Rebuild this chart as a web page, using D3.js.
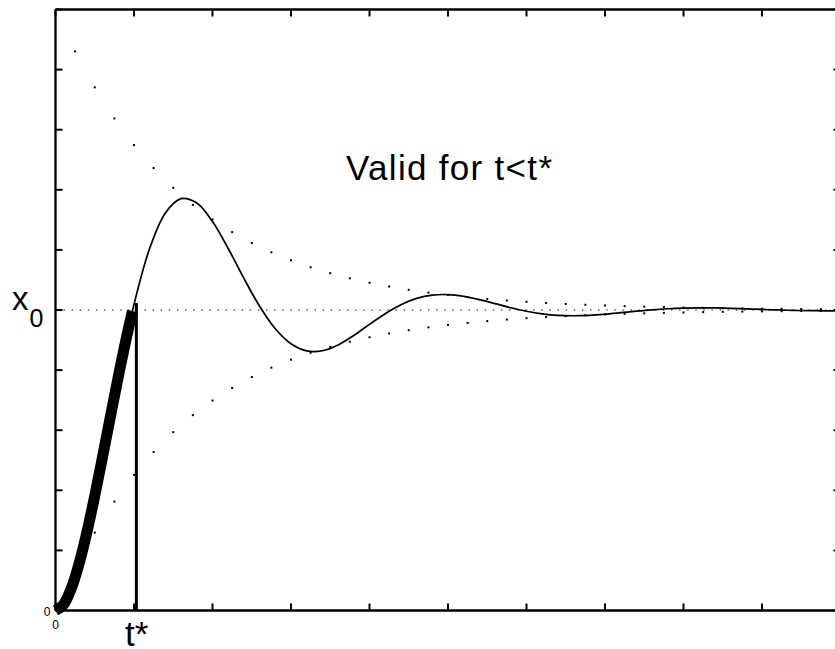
<!DOCTYPE html>
<html><head><meta charset="utf-8">
<script src="https://cdn.jsdelivr.net/npm/d3@7"></script>
<style>html,body{margin:0;padding:0;background:#fff;overflow:hidden}</style>
</head><body><svg id="c" width="835" height="649" style="display:block"></svg>
<script>
// ---- data ----
const respT = [0,0.2,0.4,0.6,0.8,1.0,1.2,1.4,1.6,1.8,2.0,2.2,2.4,2.6,2.8,3.0,3.2,3.4,3.6,3.8,4.0,4.2,4.4,4.6,4.8,5.0,5.2,5.4,5.6,5.8,6.0,6.2,6.4,6.6,6.8,7.0,7.2,7.4,7.6,7.8,8.0,8.2,8.4,8.6,8.8,9.0,9.2,9.4,9.6,9.8,10];
const respX = [0,0.0730,0.2605,0.5120,0.7781,1.0186,1.2053,1.3232,1.3707,1.3560,1.2944,1.2046,1.1054,1.0125,0.9375,0.8875,0.8639,0.8644,0.8838,0.9153,0.9522,0.9878,1.0175,1.0385,1.0495,1.0513,1.0454,1.0345,1.0211,1.0075,0.9959,0.9872,0.9822,0.9808,0.9824,0.9861,0.9910,0.9961,1.0006,1.0041,1.0063,1.0071,1.0068,1.0056,1.0038,1.0019,1.0001,0.9987,0.9978,0.9974,0.9974];
const thickT = [0,0.1,0.2,0.3,0.4,0.5,0.6,0.7,0.8,0.9,0.98];
const thickX = [0,0.0192,0.0730,0.1556,0.2605,0.3815,0.5120,0.6459,0.7781,0.9036,0.9966];
const envT = [0.25,0.5,0.75,1,1.25,1.5,1.75,2,2.25,2.5,2.75,3,3.25,3.5,3.75,4,4.25,4.5,4.75,5,5.25,5.5,5.75,6,6.25,6.5,6.75,7,7.25,7.5,7.75,8,8.25,8.5,8.75,9,9.25,9.5,9.75,10];
const envUpper = [1.8607,1.7408,1.6376,1.5488,1.4724,1.4066,1.3499,1.3012,1.2592,1.2231,1.1920,1.1653,1.1423,1.1225,1.1054,1.0907,1.0781,1.0672,1.0578,1.0498,1.0429,1.0369,1.0317,1.0273,1.0235,1.0202,1.0174,1.0150,1.0129,1.0111,1.0096,1.0082,1.0071,1.0061,1.0052,1.0045,1.0039,1.0033,1.0029,1.0025];
const envLower = [0.1393,0.2592,0.3624,0.4512,0.5276,0.5934,0.6501,0.6988,0.7408,0.7769,0.8080,0.8347,0.8577,0.8775,0.8946,0.9093,0.9219,0.9328,0.9422,0.9502,0.9571,0.9631,0.9683,0.9727,0.9765,0.9798,0.9826,0.9850,0.9871,0.9889,0.9904,0.9918,0.9929,0.9939,0.9948,0.9955,0.9961,0.9967,0.9971,0.9975];
const xTicks = [0,1,2,3,4,5,6,7,8,9,10];
const yTicks = [0,0.2,0.4,0.6,0.8,1.0,1.2,1.4,1.6,1.8,2.0];
const refLevel = 1;
const tStar = 1.03, tStarTop = 1.023;
const xZeroLabel = "0", yZeroLabel = "0";
const refLabel = "x", refSub = "0";
const tStarLabel = "t*";
const noteText = "Valid for t<t*";

// ---- drawing ----
const svg = d3.select("#c");
svg.append("rect").attr("width",835).attr("height",649).attr("fill","#fff");
const FONT = "'Liberation Sans', Arial, Helvetica, sans-serif";
const x = d3.scaleLinear().domain([0,10]).range([55.5,840.5]);
const y = d3.scaleLinear().domain([0,2]).range([610.5,9.5]);

function styleAxis(g){
  g.select(".domain").attr("stroke","#000").attr("stroke-width",2.3);
  g.selectAll(".tick line").attr("stroke","#000").attr("stroke-width",2);
  g.selectAll(".tick text").remove();
}
svg.append("g").attr("transform",`translate(0,${y(0)})`)
  .call(d3.axisBottom(x).tickValues(xTicks).tickSize(-7).tickSizeOuter(0).offset(0).tickFormat("")).call(styleAxis);
svg.append("g").attr("transform",`translate(0,${y(2)})`)
  .call(d3.axisTop(x).tickValues(xTicks).tickSize(-7).tickSizeOuter(0).offset(0).tickFormat("")).call(styleAxis);
svg.append("g").attr("transform",`translate(${x(0)},0)`)
  .call(d3.axisLeft(y).tickValues(yTicks).tickSize(-7).tickSizeOuter(0).offset(0).tickFormat("")).call(styleAxis);
svg.append("g").attr("transform",`translate(${x(10)},0)`)
  .call(d3.axisRight(y).tickValues(yTicks).tickSize(-7).tickSizeOuter(0).offset(0).tickFormat("")).call(styleAxis);

// reference dotted line
svg.append("line").attr("x1",x(0)+8).attr("x2",x(10)).attr("y1",y(refLevel)).attr("y2",y(refLevel))
  .attr("stroke","#000").attr("stroke-width",1.1).attr("stroke-dasharray","1.4 6.7");

// envelope dots
const envPts = envT.map((t,i)=>[t,envUpper[i]]).concat(envT.map((t,i)=>[t,envLower[i]]));
svg.append("g").selectAll("rect").data(envPts).join("rect")
  .attr("x",d=>x(d[0])-1).attr("y",d=>y(d[1])-1).attr("width",2).attr("height",2).attr("fill","#000");

// thin response
const line = d3.line().x(d=>x(d[0])).y(d=>y(d[1])).curve(d3.curveCatmullRom);
svg.append("path").datum(respT.map((t,i)=>[t,respX[i]])).attr("d",line)
  .attr("fill","none").attr("stroke","#000").attr("stroke-width",1.7);
// thick part
svg.append("path").datum(thickT.map((t,i)=>[t,thickX[i]])).attr("d",line)
  .attr("fill","none").attr("stroke","#000").attr("stroke-width",11).attr("stroke-linecap","butt").attr("stroke-linejoin","round");
// t* vertical
svg.append("line").attr("x1",x(tStar)).attr("x2",x(tStar)).attr("y1",y(0)).attr("y2",y(tStarTop))
  .attr("stroke","#000").attr("stroke-width",3);

// texts
svg.append("text").attr("x",x(0)-5).attr("y",615.5).attr("text-anchor","end")
  .attr("font-family",FONT).attr("font-size",12).text(yZeroLabel);
svg.append("text").attr("x",x(0)).attr("y",629).attr("text-anchor","middle")
  .attr("font-family",FONT).attr("font-size",12).text(xZeroLabel);
const rl = svg.append("text").attr("x",12).attr("y",y(refLevel)).attr("font-family",FONT).attr("font-size",33).text(refLabel);
rl.append("tspan").attr("font-size",25).attr("dy",17).attr("dx",1).text(refSub);
svg.append("text").attr("x",x(1)-9).attr("y",646).attr("font-family",FONT).attr("font-size",35).text(tStarLabel);
svg.append("text").attr("x",346).attr("y",180).attr("font-family",FONT).attr("font-size",35)
  .attr("textLength",206).attr("lengthAdjust","spacing").text(noteText);
</script></body></html>
